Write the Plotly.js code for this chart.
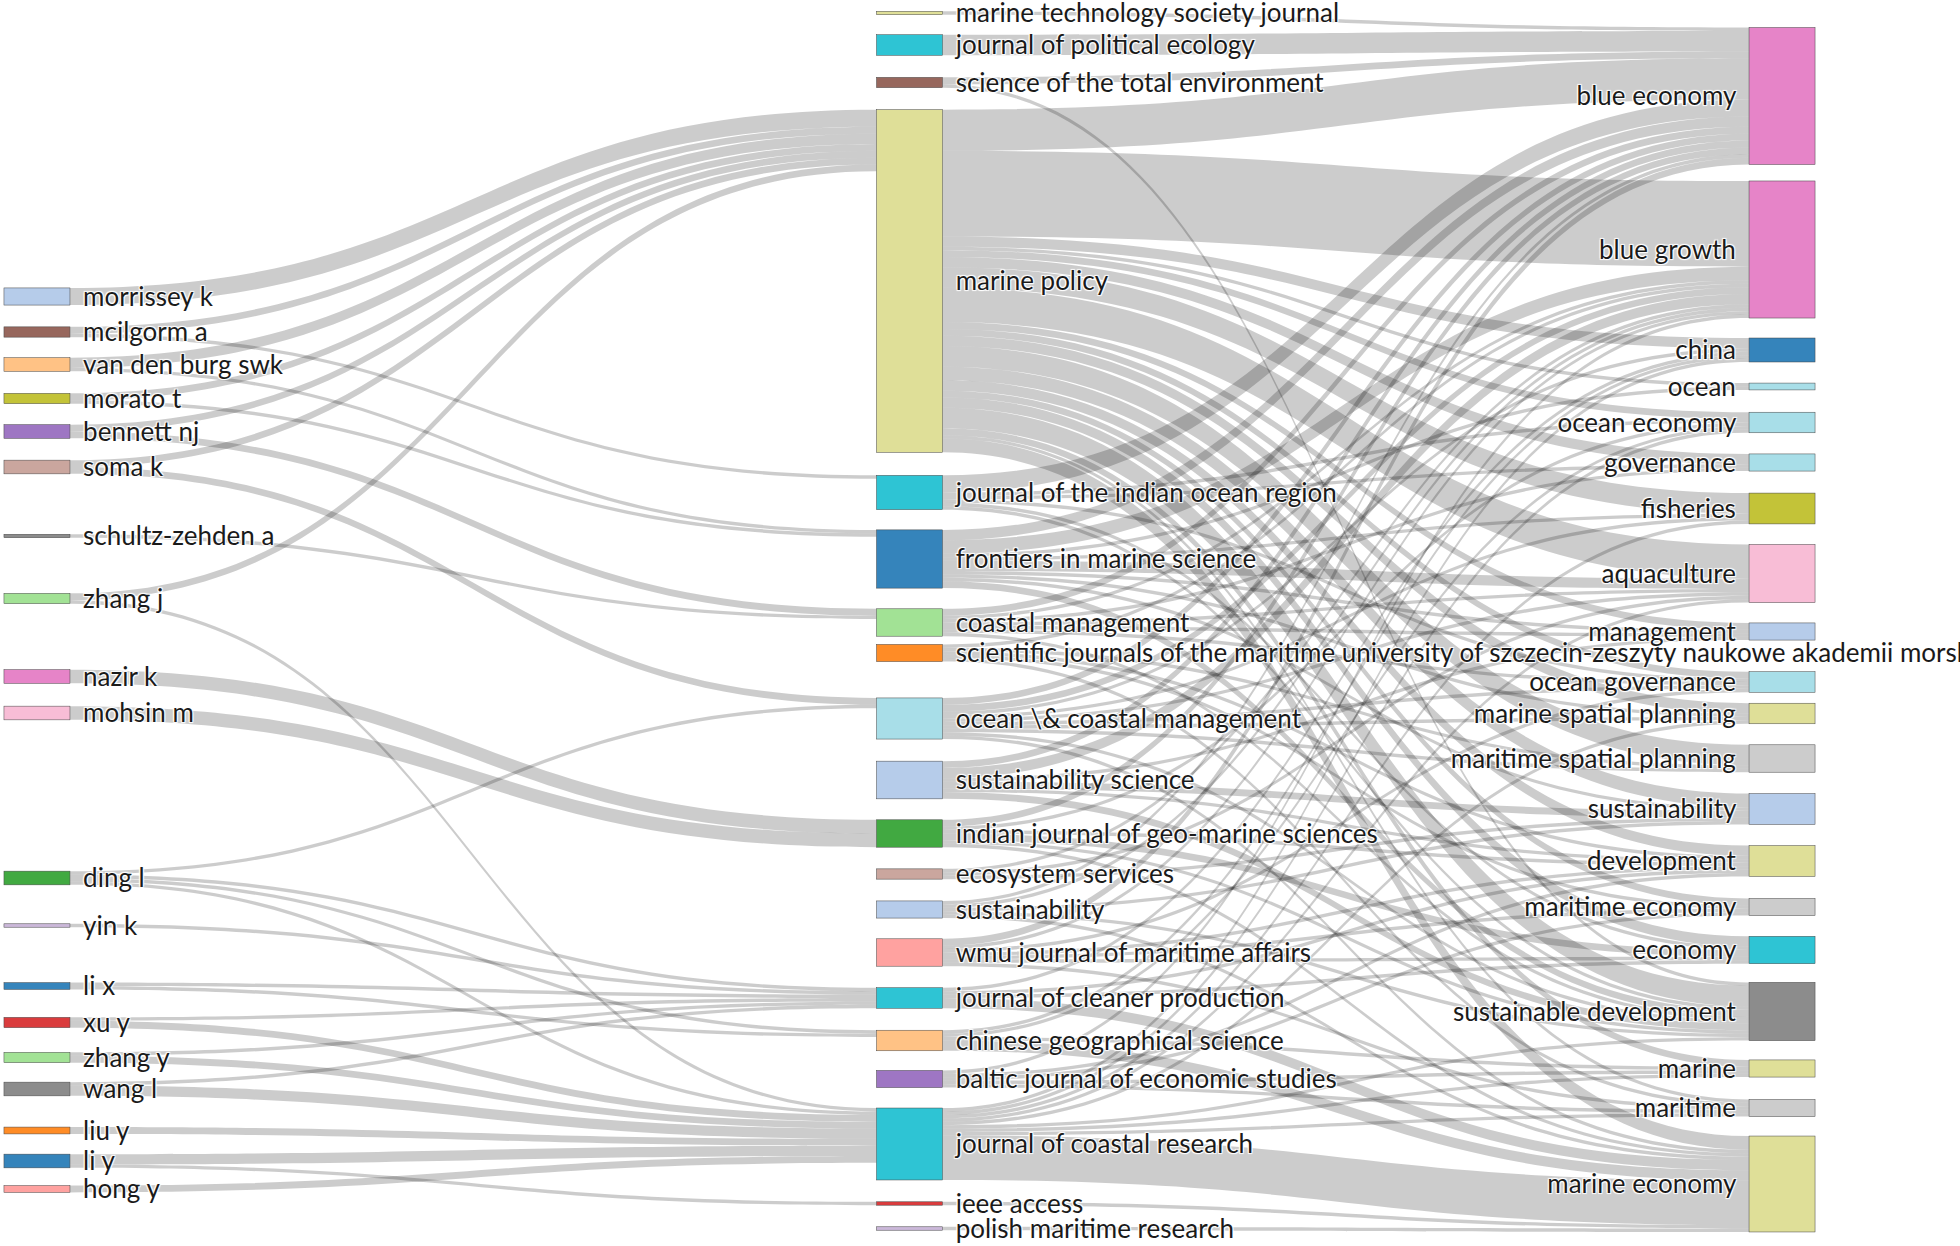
<!DOCTYPE html>
<html>
<head>
<meta charset="utf-8">
<script src="https://cdn.plot.ly/plotly-3.0.1.min.js"></script>
<style>
  html, body { margin: 0; padding: 0; background: #ffffff; }
  #chart { width: 1960px; height: 1246px; }
</style>
</head>
<body>
<div id="chart"></div>
<script>
// ---------------- DATA ----------------
const authors = [
  "morrissey k", "mcilgorm a", "van den burg swk", "morato t", "bennett nj", "soma k",
  "schultz-zehden a", "zhang j", "nazir k", "mohsin m", "ding l", "yin k", "li x",
  "xu y", "zhang y", "wang l", "liu y", "li y", "hong y"
];
const journals = [
  "marine technology society journal", "journal of political ecology", "science of the total environment",
  "marine policy", "journal of the indian ocean region", "frontiers in marine science", "coastal management",
  "scientific journals of the maritime university of szczecin-zeszyty naukowe akademii morskiej w szczecinie",
  "ocean \\& coastal management", "sustainability science", "indian journal of geo-marine sciences",
  "ecosystem services", "sustainability", "wmu journal of maritime affairs", "journal of cleaner production",
  "chinese geographical science", "baltic journal of economic studies", "journal of coastal research",
  "ieee access", "polish maritime research"
];
const keywords = [
  "blue economy", "blue growth", "china", "ocean", "ocean economy", "governance", "fisheries",
  "aquaculture", "management", "ocean governance", "marine spatial planning", "maritime spatial planning",
  "sustainability", "development", "maritime economy", "economy", "sustainable development",
  "marine", "maritime", "marine economy"
];

// author -> journal flows
const authorLinkFrom = [
  "morrissey k", "mcilgorm a", "mcilgorm a", "van den burg swk", "van den burg swk", "morato t", "morato t",
  "bennett nj", "bennett nj", "soma k", "soma k", "schultz-zehden a", "zhang j", "zhang j",
  "nazir k", "mohsin m", "ding l", "ding l", "ding l", "ding l", "yin k", "li x", "li x",
  "xu y", "xu y", "zhang y", "zhang y", "wang l", "wang l", "liu y", "li y", "li y", "hong y"
];
const authorLinkTo = [
  "marine policy", "marine policy", "journal of the indian ocean region", "marine policy", "frontiers in marine science",
  "marine policy", "frontiers in marine science", "marine policy", "coastal management", "marine policy",
  "ocean \\& coastal management", "coastal management", "marine policy", "journal of coastal research",
  "indian journal of geo-marine sciences", "indian journal of geo-marine sciences",
  "ocean \\& coastal management", "journal of cleaner production", "journal of coastal research", "chinese geographical science",
  "journal of cleaner production", "journal of cleaner production", "chinese geographical science",
  "journal of cleaner production", "journal of coastal research", "journal of cleaner production", "journal of coastal research",
  "journal of cleaner production", "journal of coastal research", "journal of coastal research",
  "journal of coastal research", "ieee access", "journal of coastal research"
];
const authorLinkValue = [
  5, 2, 1, 3, 1, 2, 1,
  2, 2, 2, 2, 1, 2, 1,
  4, 4, 1, 1, 1, 1, 1, 1, 1,
  1, 2, 1, 2, 1, 3, 2, 3, 1, 2
];

// journal -> keyword flows
const journalLinkFrom = [
  "marine technology society journal",
  "journal of political ecology",
  "science of the total environment", "science of the total environment",
  "marine policy", "marine policy", "marine policy", "marine policy", "marine policy", "marine policy", "marine policy",
  "marine policy", "marine policy", "marine policy", "marine policy", "marine policy", "marine policy", "marine policy",
  "marine policy", "marine policy", "marine policy", "marine policy", "marine policy", "marine policy",
  "journal of the indian ocean region", "journal of the indian ocean region", "journal of the indian ocean region",
  "journal of the indian ocean region", "journal of the indian ocean region", "journal of the indian ocean region",
  "frontiers in marine science", "frontiers in marine science", "frontiers in marine science", "frontiers in marine science",
  "frontiers in marine science", "frontiers in marine science", "frontiers in marine science", "frontiers in marine science",
  "frontiers in marine science",
  "coastal management", "coastal management", "coastal management", "coastal management", "coastal management",
  "coastal management", "coastal management",
  "scientific journals of the maritime university of szczecin-zeszyty naukowe akademii morskiej w szczecinie",
  "scientific journals of the maritime university of szczecin-zeszyty naukowe akademii morskiej w szczecinie",
  "scientific journals of the maritime university of szczecin-zeszyty naukowe akademii morskiej w szczecinie",
  "scientific journals of the maritime university of szczecin-zeszyty naukowe akademii morskiej w szczecinie",
  "scientific journals of the maritime university of szczecin-zeszyty naukowe akademii morskiej w szczecinie",
  "ocean \\& coastal management", "ocean \\& coastal management", "ocean \\& coastal management", "ocean \\& coastal management",
  "ocean \\& coastal management", "ocean \\& coastal management", "ocean \\& coastal management", "ocean \\& coastal management",
  "ocean \\& coastal management", "ocean \\& coastal management",
  "sustainability science", "sustainability science", "sustainability science", "sustainability science",
  "sustainability science", "sustainability science",
  "indian journal of geo-marine sciences", "indian journal of geo-marine sciences", "indian journal of geo-marine sciences",
  "indian journal of geo-marine sciences", "indian journal of geo-marine sciences", "indian journal of geo-marine sciences",
  "ecosystem services", "ecosystem services", "ecosystem services",
  "sustainability", "sustainability", "sustainability", "sustainability", "sustainability",
  "wmu journal of maritime affairs", "wmu journal of maritime affairs", "wmu journal of maritime affairs",
  "wmu journal of maritime affairs", "wmu journal of maritime affairs", "wmu journal of maritime affairs",
  "wmu journal of maritime affairs",
  "journal of cleaner production", "journal of cleaner production", "journal of cleaner production", "journal of cleaner production",
  "chinese geographical science", "chinese geographical science", "chinese geographical science", "chinese geographical science",
  "baltic journal of economic studies", "baltic journal of economic studies", "baltic journal of economic studies",
  "baltic journal of economic studies", "baltic journal of economic studies",
  "journal of coastal research", "journal of coastal research", "journal of coastal research", "journal of coastal research",
  "journal of coastal research", "journal of coastal research", "journal of coastal research", "journal of coastal research",
  "journal of coastal research",
  "ieee access",
  "polish maritime research"
];
const journalLinkTo = [
  "blue economy",
  "blue economy",
  "blue economy", "sustainable development",
  "blue economy", "blue growth", "china", "ocean", "ocean economy", "governance", "fisheries",
  "aquaculture", "management", "ocean governance", "marine spatial planning", "maritime spatial planning", "sustainability", "development",
  "maritime economy", "economy", "sustainable development", "marine", "maritime", "marine economy",
  "blue economy", "ocean economy", "governance",
  "ocean governance", "economy", "sustainable development",
  "blue economy", "blue growth", "ocean", "fisheries",
  "aquaculture", "marine spatial planning", "sustainability", "sustainable development",
  "management",
  "blue economy", "blue growth", "ocean governance", "governance", "aquaculture",
  "management", "sustainable development",
  "blue growth", "maritime economy", "maritime spatial planning", "maritime", "development",
  "blue economy", "blue growth", "marine spatial planning", "maritime spatial planning",
  "ocean governance", "marine economy", "sustainable development", "aquaculture",
  "china", "fisheries",
  "blue economy", "blue growth", "sustainability", "development",
  "sustainable development", "management",
  "blue economy", "ocean economy", "economy",
  "development", "marine economy", "sustainable development",
  "blue growth", "aquaculture", "sustainability",
  "blue economy", "blue growth", "sustainability", "sustainable development", "marine economy",
  "blue economy", "blue growth", "maritime economy",
  "ocean governance", "economy", "maritime",
  "development",
  "marine economy", "china", "development", "economy",
  "marine economy", "china", "ocean economy", "marine",
  "blue growth", "maritime economy", "development",
  "maritime", "marine",
  "marine economy", "china", "ocean economy", "sustainable development",
  "marine", "fisheries", "aquaculture", "maritime",
  "marine spatial planning",
  "marine economy",
  "marine economy"
];
const journalLinkValue = [
  1,
  6,
  2, 1,
  12, 25, 3, 1, 2, 3, 6,
  10, 2, 2, 3, 6, 4, 3,
  2, 3, 6, 2, 1, 4,
  5, 1, 1,
  1, 1, 1,
  3, 4, 1, 1,
  3, 1, 1, 2,
  1,
  2, 1, 1, 1, 1,
  1, 1,
  1, 1, 1, 1, 1,
  2, 2, 1, 1,
  1, 1, 1, 1,
  1, 1,
  2, 3, 2, 1,
  2, 1,
  2, 1, 2,
  1, 1, 1,
  1, 1, 1,
  1, 1, 1, 1, 1,
  2, 1, 1,
  1, 1, 1,
  1,
  3, 1, 1, 1,
  3, 1, 1, 1,
  1, 1, 1,
  1, 1,
  13, 1, 1, 1,
  1, 1, 1, 1,
  1,
  1,
  1
];

// ---------------- STYLE / LAYOUT ----------------
const authorColors = [
  "#aec7e8", "#8c564b", "#ffbb78", "#bcbd22", "#9467bd", "#c49c94", "#7f7f7f", "#98df8a",
  "#e377c2", "#f7b6d2", "#2ca02c", "#c5b0d5", "#1f77b4", "#d62728", "#98df8a", "#7f7f7f",
  "#ff7f0e", "#1f77b4", "#ff9896"
];
const journalColors = [
  "#dbdb8d", "#17becf", "#8c564b", "#dbdb8d", "#17becf", "#1f77b4", "#98df8a", "#ff7f0e",
  "#9edae5", "#aec7e8", "#2ca02c", "#c49c94", "#aec7e8", "#ff9896", "#17becf", "#ffbb78",
  "#9467bd", "#17becf", "#d62728", "#c5b0d5"
];
const keywordColors = [
  "#e377c2", "#e377c2", "#1f77b4", "#9edae5", "#9edae5", "#9edae5", "#bcbd22", "#f7b6d2",
  "#aec7e8", "#9edae5", "#dbdb8d", "#c7c7c7", "#aec7e8", "#dbdb8d", "#c7c7c7", "#17becf",
  "#7f7f7f", "#dbdb8d", "#c7c7c7", "#dbdb8d"
];
const nodeOpacity = 0.9;

// node arrangement (vertical centre of each node, in page pixels)
const authorCentres = [296.5, 332, 364.5, 398.5, 431.5, 467, 536, 598.5, 676.5, 713,
  878, 925.5, 986, 1022.5, 1057.5, 1089, 1130.5, 1161, 1189];
const journalCentres = [13, 45, 82.5, 281, 492.5, 559, 622.5, 653, 718.5, 780, 833.5,
  874, 909.5, 952.5, 998, 1040.5, 1079, 1144, 1203.5, 1228.5];
const keywordCentres = [96, 249.5, 350, 386.5, 422.5, 462.5, 508.5, 573.5, 631.5, 682, 713.5,
  758.5, 809, 861, 907, 950, 1011.5, 1068.5, 1108, 1184];
const columnX = [0.0182, 0.5, 0.9818];

const margin = { l: 4, r: 145, t: 5, b: 11 };
const plotH = 1246 - margin.t - margin.b;
const labelGapLeft = "\u00a0\u2009";
const labelGapRight = "\u00a0\u2009";

// ---------------- BUILD ----------------
const hexToRgba = (h, a) => {
  const n = parseInt(h.slice(1), 16);
  return "rgba(" + ((n >> 16) & 255) + "," + ((n >> 8) & 255) + "," + (n & 255) + "," + a + ")";
};
const labels = authors.map(s => labelGapLeft + s)
  .concat(journals.map(s => labelGapLeft + s), keywords.map(s => s + labelGapRight));
const colors = authorColors.concat(journalColors, keywordColors).map(c => hexToRgba(c, nodeOpacity));
const nA = authors.length, nJ = journals.length;
const idxA = n => authors.indexOf(n);
const idxJ = n => nA + journals.indexOf(n);
const idxK = n => nA + nJ + keywords.indexOf(n);

const source = [], target = [], value = [];
authorLinkFrom.forEach((a, i) => { source.push(idxA(a)); target.push(idxJ(authorLinkTo[i])); value.push(authorLinkValue[i]); });
journalLinkFrom.forEach((j, i) => { source.push(idxJ(j)); target.push(idxK(journalLinkTo[i])); value.push(journalLinkValue[i]); });

const toFrac = c => (c - margin.t) / plotH;
const nodeX = authors.map(() => columnX[0]).concat(journals.map(() => columnX[1]), keywords.map(() => columnX[2]));
const nodeY = authorCentres.map(toFrac).concat(journalCentres.map(toFrac), keywordCentres.map(toFrac));

const trace = {
  type: "sankey",
  arrangement: "fixed",
  orientation: "h",
  node: {
    label: labels,
    color: colors,
    x: nodeX,
    y: nodeY,
    pad: 22,
    thickness: 66,
    line: { color: "#444", width: 0.5 }
  },
  link: {
    source: source,
    target: target,
    value: value,
    color: "rgba(0,0,0,0.2)"
  },
  textfont: { family: "Lato, 'DejaVu Sans', sans-serif", size: 26, color: "#1a1a1a" }
};

const layout = {
  width: 1960,
  height: 1246,
  margin: margin,
  paper_bgcolor: "#ffffff",
  plot_bgcolor: "#ffffff",
  font: { family: "Lato, 'DejaVu Sans', sans-serif", size: 26, color: "#1a1a1a" },
  showlegend: false
};

Plotly.newPlot("chart", [trace], layout, { displayModeBar: false, responsive: false });
</script>
</body>
</html>
